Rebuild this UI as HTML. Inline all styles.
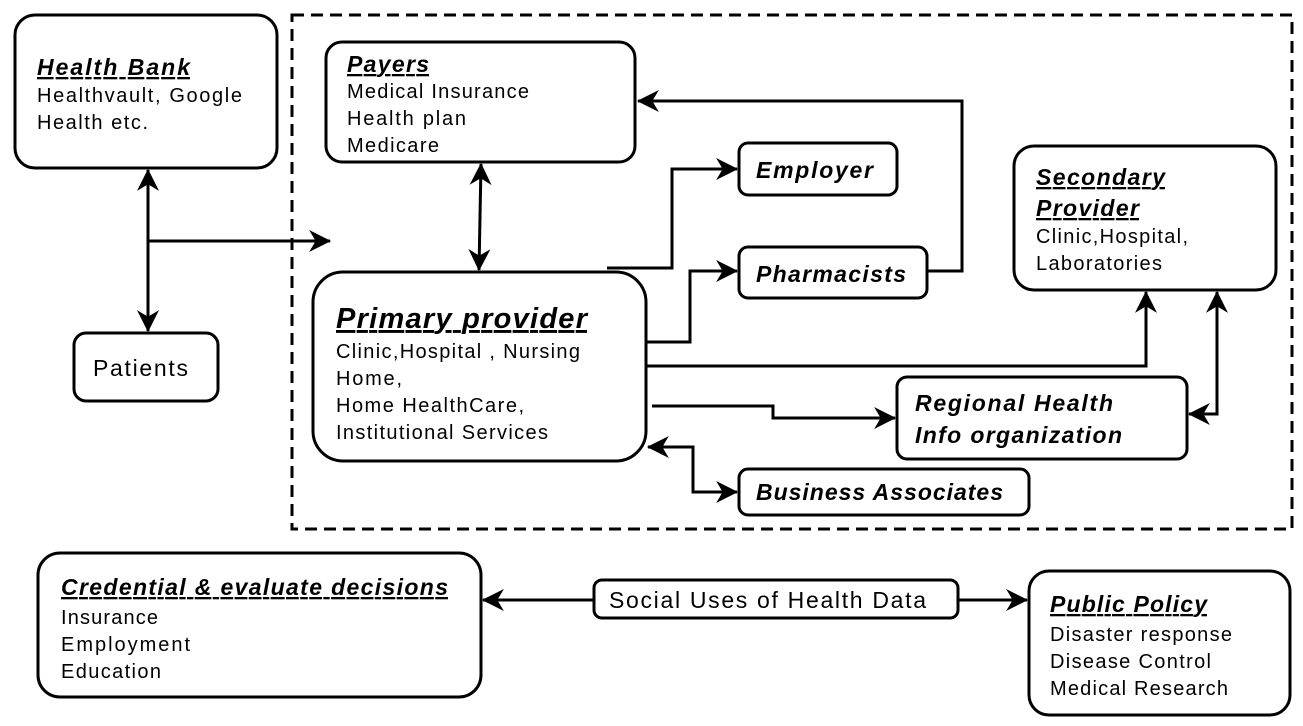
<!DOCTYPE html>
<html><head><meta charset="utf-8"><style>
body{margin:0;background:#fff;}
svg{display:block;font-family:"Liberation Sans",sans-serif;}
.b{fill:#fff;stroke:#000;stroke-width:3}
.l{fill:none;stroke:#000;stroke-width:3}
.t{font-size:23px;font-weight:bold;font-style:italic;text-decoration:underline}
.n{font-size:20px}
.i{font-size:23px;font-weight:bold;font-style:italic}
</style></head><body>
<svg width="1303" height="726" viewBox="0 0 1303 726">
<defs><marker id="a" viewBox="0 0 20 20" refX="19" refY="10" markerWidth="24" markerHeight="22" markerUnits="userSpaceOnUse" orient="auto-start-reverse">
<path d="M0,0 L20,10 L0,20 L6,10 Z" fill="#000"/></marker></defs>
<rect x="292" y="15" width="1000" height="514" fill="none" stroke="#000" stroke-width="3" stroke-dasharray="12,7"/>
<g class="l">
<path d="M148,170 V331" marker-start="url(#a)" marker-end="url(#a)"/>
<path d="M148,241 H330" marker-end="url(#a)"/>
<path d="M481,164 L479,270" marker-start="url(#a)" marker-end="url(#a)"/>
<path d="M607,268 H672 V169 H737" marker-end="url(#a)"/>
<path d="M646,342 H690 V271 H737" marker-end="url(#a)"/>
<path d="M927,271 H962 V101 H638" marker-end="url(#a)"/>
<path d="M646,366 H1146 V292" marker-end="url(#a)"/>
<path d="M652,406 H773 V418 H895" marker-end="url(#a)"/>
<path d="M648,447 H693 V492 H737" marker-start="url(#a)" marker-end="url(#a)"/>
<path d="M1189,414 H1217 V292" marker-start="url(#a)" marker-end="url(#a)"/>
<path d="M594,600 H483" marker-end="url(#a)"/>
<path d="M958,600 H1027" marker-end="url(#a)"/>
</g>
<rect class="b" x="15" y="15" width="262" height="153" rx="20"/>
<rect class="b" x="326" y="42" width="309" height="120" rx="16"/>
<rect class="b" x="739" y="143" width="158" height="52" rx="9"/>
<rect class="b" x="739" y="247" width="188" height="51" rx="9"/>
<rect class="b" x="1014" y="146" width="262" height="144" rx="20"/>
<rect class="b" x="313" y="272" width="333" height="189" rx="30"/>
<rect class="b" x="897" y="377" width="290" height="82" rx="10"/>
<rect class="b" x="739" y="469" width="290" height="46" rx="9"/>
<rect class="b" x="74" y="333" width="144" height="68" rx="12"/>
<rect class="b" x="38" y="553" width="443" height="144" rx="22"/>
<rect class="b" x="594" y="580" width="364" height="38" rx="8"/>
<rect class="b" x="1029" y="571" width="261" height="144" rx="20"/>
<g lengthAdjust="spacing">
<text class="t" x="37" y="75" textLength="153">Health Bank</text>
<text class="n" x="37" y="102" textLength="205">Healthvault, Google</text>
<text class="n" x="37" y="129" textLength="111">Health etc.</text>
<text class="t" x="347" y="72" textLength="82">Payers</text>
<text class="n" x="347" y="98" textLength="182">Medical Insurance</text>
<text class="n" x="347" y="125" textLength="119">Health plan</text>
<text class="n" x="347" y="152" textLength="92">Medicare</text>
<text class="i" x="756" y="178" textLength="117">Employer</text>
<text class="i" x="756" y="282" textLength="150">Pharmacists</text>
<text class="t" x="1036" y="185" textLength="129">Secondary</text>
<text class="t" x="1036" y="216" textLength="103">Provider</text>
<text class="n" x="1036" y="243" textLength="152">Clinic,Hospital,</text>
<text class="n" x="1036" y="270" textLength="126">Laboratories</text>
<text class="t" x="336" y="328" style="font-size:29px" textLength="251">Primary provider</text>
<text class="n" x="336" y="358" textLength="244">Clinic,Hospital , Nursing</text>
<text class="n" x="336" y="385" textLength="66">Home,</text>
<text class="n" x="336" y="412" textLength="188">Home HealthCare,</text>
<text class="n" x="336" y="439" textLength="212">Institutional Services</text>
<text class="i" x="915" y="411" textLength="198">Regional Health</text>
<text class="i" x="915" y="443" textLength="207">Info organization</text>
<text class="i" x="756" y="500" textLength="247">Business Associates</text>
<text class="n" x="93" y="376" style="font-size:23px" textLength="95">Patients</text>
<text class="t" x="61" y="595" textLength="387">Credential &amp; evaluate decisions</text>
<text class="n" x="61" y="624" textLength="97">Insurance</text>
<text class="n" x="61" y="651" textLength="129">Employment</text>
<text class="n" x="61" y="678" textLength="100">Education</text>
<text class="n" x="609" y="608" style="font-size:23px" textLength="317">Social Uses of Health Data</text>
<text class="t" x="1050" y="612" textLength="157">Public Policy</text>
<text class="n" x="1050" y="641" textLength="182">Disaster response</text>
<text class="n" x="1050" y="668" textLength="161">Disease Control</text>
<text class="n" x="1050" y="695" textLength="178">Medical Research</text>
</g>
</svg>
</body></html>
